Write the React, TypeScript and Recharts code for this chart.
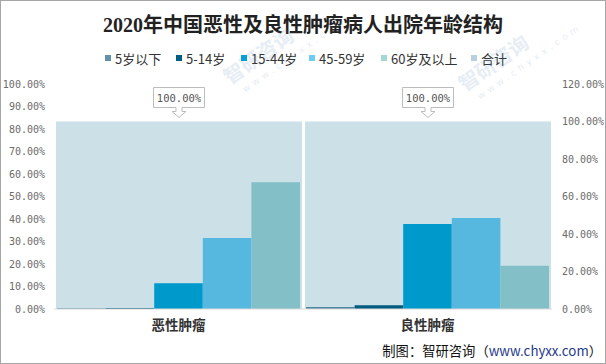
import React from "react";
import { BarChart, Bar, XAxis, YAxis, LabelList } from "recharts";

const categories = ["恶性肿瘤", "良性肿瘤"];
const seriesNames = ["5岁以下", "5-14岁", "15-44岁", "45-59岁", "60岁及以上"];
const under5 = [0.3, 0.9];
const age5to14 = [0.4, 1.7];
const age15to44 = [11.4, 37.8];
const age45to59 = [31.6, 40.4];
const age60plus = [56.3, 19.2];
const totals = [100, 100];
const totalName = "合计";
const leftTicks = [0, 10, 20, 30, 40, 50, 60, 70, 80, 90, 100];
const rightTicks = [0, 20, 40, 60, 80, 100, 120];

const barColors = ["#4F86A0", "#005B7F", "#0099CB", "#56B7DF", "#82BFC6"];
const totalColor = "#CCE0E7";
const legendColors = ["#6391AA", "#005E80", "#00A3DA", "#6ECDF0", "#A3D7D6", "#B9D0DF"];
const legendX = [105, 176, 241, 309, 381, 471];

const seriesValues = [under5, age5to14, age15to44, age45to59, age60plus];
const data = categories.map((name, i) => {
  const row: Record<string, string | number> = { name, total: totals[i] };
  seriesValues.forEach((vals, s) => {
    row["s" + s] = vals[i];
  });
  return row;
});

const pct = (v: number) => `${Number(v).toFixed(2)}%`;
const tickFont = { fontFamily: "'DejaVu Sans Mono', monospace", fontSize: 10, fill: "#6b6b6b" };

function Callout(props: any) {
  const { x, y, width, value } = props;
  const cx = x + width / 2;
  const top = y - 34;
  const bottom = y - 14;
  const d = `M${cx - 25.5},${top} H${cx + 25.5} V${bottom} H${cx + 3} V${y - 10} H${cx + 7} L${cx},${y - 4} L${cx - 7},${y - 10} H${cx - 3} V${bottom} H${cx - 25.5} Z`;
  return (
    <g>
      <path d={d} fill="#fff" stroke="#bdbdbd" strokeWidth={1} />
      <text x={cx} y={top + 14} textAnchor="middle" fontFamily="'DejaVu Sans Mono', monospace" fontSize={10.5} fill="#555">
        {pct(value)}
      </text>
    </g>
  );
}

function Watermark({ x, y }: { x: number; y: number }) {
  return (
    <g transform={`translate(${x},${y}) rotate(-35)`} opacity={0.13} pointerEvents="none">
      <text x={0} y={0} fontSize={20} fontWeight="bold" fill="#4a78b0" fontFamily="'Noto Sans CJK SC', sans-serif">
        智研咨询
      </text>
      <text x={8} y={15} fontSize={9} letterSpacing={4} fill="#4a78b0" fontFamily="'DejaVu Sans', sans-serif">
        www.chyxx.com
      </text>
    </g>
  );
}

export default function App() {
  return (
    <div
      style={{
        position: "fixed",
        left: 0,
        top: 0,
        width: 606,
        height: 364,
        boxSizing: "border-box",
        border: "1px solid #a6a6a6",
        background: "#fff",
        overflow: "hidden",
      }}
    >
      <div
        style={{
          position: "absolute",
          left: 0,
          top: 12,
          width: 604,
          textAlign: "center",
          fontFamily: "'Liberation Serif', 'Noto Sans CJK SC', serif",
          fontWeight: "bold",
          fontSize: 20,
          lineHeight: "24px",
          color: "#222",
        }}
      >
        2020年中国恶性及良性肿瘤病人出院年龄结构
      </div>
      {[...seriesNames, totalName].map((n, i) => (
        <div
          key={n}
          style={{
            position: "absolute",
            left: legendX[i] - 1,
            top: 48,
            height: 18,
            display: "flex",
            alignItems: "center",
            fontFamily: "'Noto Sans CJK SC', sans-serif",
            fontSize: 13,
            color: "#333",
            whiteSpace: "nowrap",
          }}
        >
          <span style={{ display: "inline-block", width: 6, height: 6, background: legendColors[i], marginRight: 4 }} />
          {n}
        </div>
      ))}
      <div style={{ position: "absolute", left: -1, top: -1 }}>
        <BarChart
          width={606}
          height={364}
          data={data}
          margin={{ top: 84, right: 0, bottom: 25, left: 0 }}
          barGap={0}
        >
          <XAxis xAxisId="total" dataKey="name" hide />
          <XAxis
            xAxisId="main"
            dataKey="name"
            height={30}
            tickSize={0}
            tickMargin={11}
            axisLine={{ stroke: "#d9d9d9" }}
            tick={{ fontFamily: "'Noto Sans CJK SC', sans-serif", fontSize: 13.5, fontWeight: "bold", fill: "#333" }}
          />
          <YAxis
            yAxisId="left"
            orientation="left"
            width={54}
            domain={[0, 100]}
            ticks={leftTicks}
            tickFormatter={pct}
            tickSize={0}
            tickMargin={9}
            axisLine={false}
            tick={tickFont}
          />
          <YAxis
            yAxisId="right"
            orientation="right"
            width={54}
            domain={[0, 120]}
            ticks={rightTicks}
            tickFormatter={pct}
            tickSize={0}
            tickMargin={10}
            axisLine={false}
            tick={tickFont}
          />
          <Bar
            xAxisId="total"
            yAxisId="right"
            dataKey="total"
            name={totalName}
            fill={totalColor}
            barSize={246}
            isAnimationActive={false}
          >
            <LabelList dataKey="total" content={Callout} />
          </Bar>
          {seriesNames.map((n, s) => (
            <Bar
              key={n}
              xAxisId="main"
              yAxisId="left"
              dataKey={"s" + s}
              name={n}
              fill={barColors[s]}
              barSize={48.6}
              isAnimationActive={false}
            />
          ))}
          <Watermark x={230} y={85} />
          <Watermark x={465} y={92} />
        </BarChart>
      </div>
      <div
        style={{
          position: "absolute",
          right: 3,
          top: 340,
          fontFamily: "'Noto Sans CJK SC', sans-serif",
          fontSize: 13.3,
          lineHeight: "20px",
          color: "#111",
          whiteSpace: "nowrap",
        }}
      >
        制图：智研咨询（<span style={{ color: "#1f3a8a" }}>www.chyxx.com</span>）
      </div>
    </div>
  );
}
